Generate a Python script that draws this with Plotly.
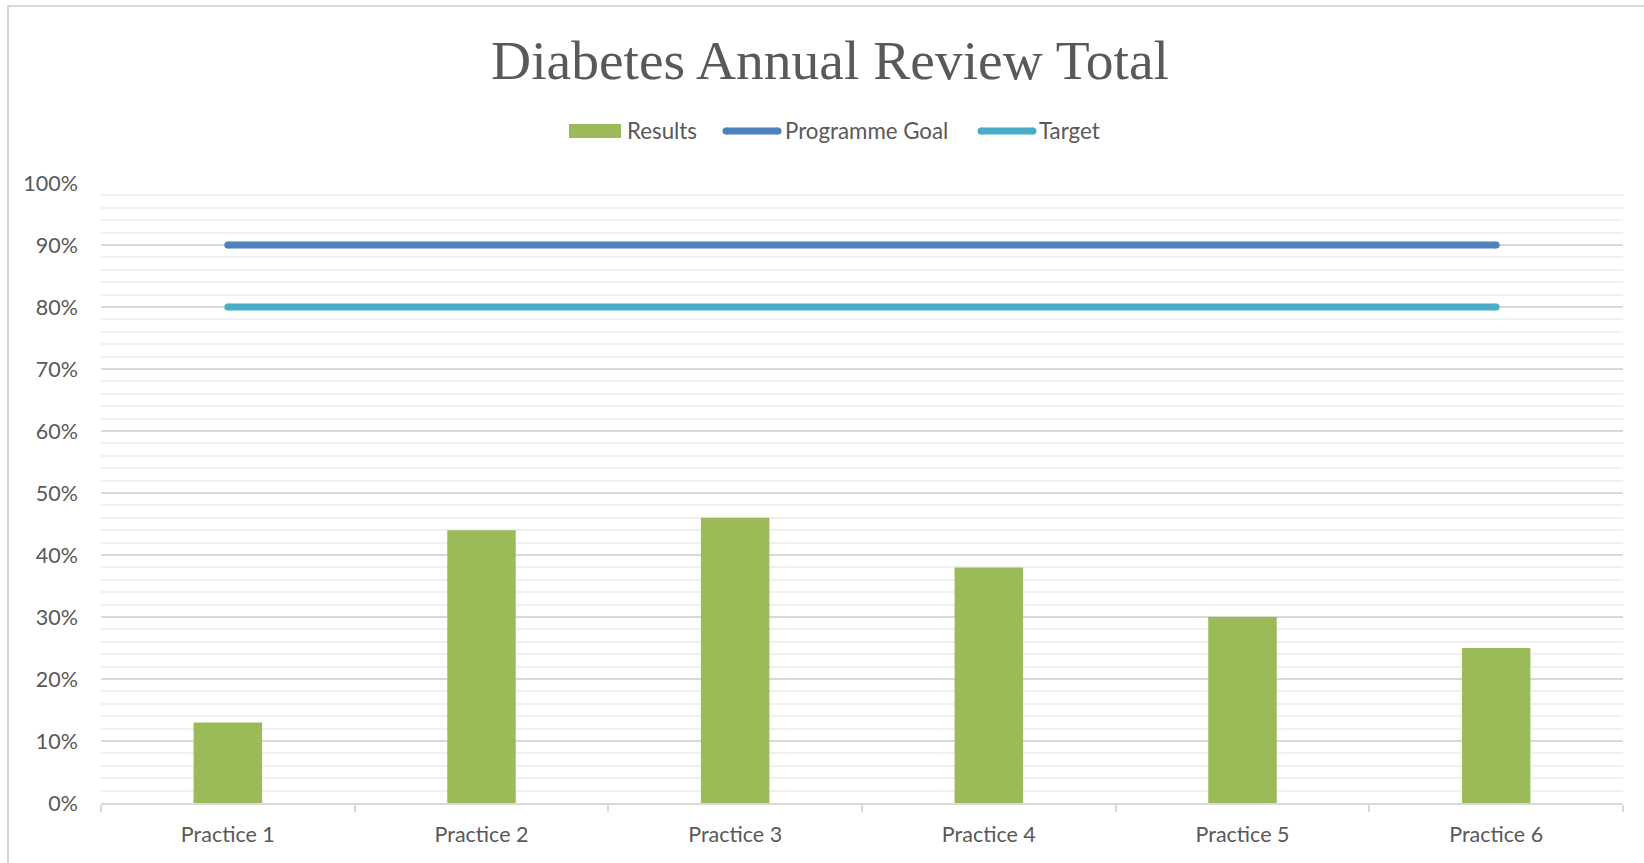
import plotly.graph_objects as go

categories = ["Practice 1", "Practice 2", "Practice 3", "Practice 4", "Practice 5", "Practice 6"]
results = [0.13, 0.44, 0.46, 0.38, 0.30, 0.25]
programme_goal = [0.90] * 6
target = [0.80] * 6
series_names = ["Results", "Programme Goal", "Target"]
y_ticks = [0, 0.1, 0.2, 0.3, 0.4, 0.5, 0.6, 0.7, 0.8, 0.9, 1.0]

W, H = 1644, 863
ML, MR, MT, MB = 101, 21, 183, 60
PW, PH = W - ML - MR, H - MT - MB

GREEN = "#9bbb59"
BLUE = "#4f81bd"
TEAL = "#4bacc6"
TXT = "#595959"


def px(x):
    return (x - ML) / PW


def py(y):
    return (H - MB - y) / PH


fig = go.Figure()
fig.add_trace(go.Bar(x=categories, y=results, name=series_names[0],
                     marker=dict(color=GREEN, line=dict(width=0)), width=0.27))
fig.add_trace(go.Scatter(x=categories, y=programme_goal, name=series_names[1], mode="lines",
                         line=dict(color=BLUE, width=7)))
fig.add_trace(go.Scatter(x=categories, y=target, name=series_names[2], mode="lines",
                         line=dict(color=TEAL, width=7)))
# round end caps
for ys, c in ((programme_goal, BLUE), (target, TEAL)):
    fig.add_trace(go.Scatter(x=[categories[0], categories[-1]], y=[ys[0], ys[-1]], mode="markers",
                             marker=dict(color=c, size=7, line=dict(width=0)), showlegend=False,
                             hoverinfo="skip"))

# chart border
fig.add_shape(type="rect", xref="paper", yref="paper",
              x0=px(8), x1=px(W + 20), y0=py(H + 20), y1=py(6),
              line=dict(color="#d9d9d9", width=2), fillcolor="rgba(0,0,0,0)", layer="below")

# custom legend (wide swatches like the original)
LY = 131
fig.add_shape(type="rect", xref="paper", yref="paper", x0=px(569), x1=px(621), y0=py(138), y1=py(124),
              line=dict(width=0), fillcolor=GREEN)
for (x0, x1), c in (((726, 778), BLUE), ((981, 1033), TEAL)):
    fig.add_shape(type="line", xref="paper", yref="paper", x0=px(x0), x1=px(x1), y0=py(LY), y1=py(LY),
                  line=dict(color=c, width=7))
    for xc in (x0, x1):
        fig.add_shape(type="circle", xref="paper", yref="paper", x0=px(xc - 3.5), x1=px(xc + 3.5),
                      y0=py(LY + 3.5), y1=py(LY - 3.5), line=dict(width=0), fillcolor=c)
for name, tx in zip(series_names, (625, 783, 1037)):
    fig.add_annotation(text=name, xref="paper", yref="paper", x=px(tx), y=py(LY), xanchor="left",
                       yanchor="middle", showarrow=False, font=dict(family="Lato", size=22.3, color=TXT))

fig.update_layout(
    width=W, height=H,
    margin=dict(l=ML, r=MR, t=MT, b=MB),
    paper_bgcolor="white", plot_bgcolor="white",
    title=dict(text="Diabetes Annual Review Total", xref="container", x=830 / W, xanchor="center",
               yref="container", y=1 - 60 / H, yanchor="middle",
               font=dict(family="Liberation Serif", size=55.5, color=TXT)),
    font=dict(family="Lato", color=TXT),
    showlegend=False,
    bargap=0.73,
)
fig.update_xaxes(showline=True, linecolor="#d9d9d9", linewidth=1.5, ticks="outside", tickson="boundaries",
                 ticklen=7, tickcolor="#d9d9d9", tickwidth=1.5, showgrid=False,
                 tickfont=dict(family="Lato", size=21.5, color=TXT), ticklabelstandoff=11)
fig.update_yaxes(range=[0, 1.0], tickvals=y_ticks, tickformat=".0%", showline=False, zeroline=False,
                 showgrid=True, gridcolor="#d9d9d9", gridwidth=1.5,
                 minor=dict(dtick=0.02, showgrid=True, gridcolor="#f0f0f0", gridwidth=1.5),
                 tickfont=dict(family="Lato", size=21.5, color=TXT), ticklabelstandoff=22)

fig.write_html("out.html", config={"displayModeBar": False},
               post_script="document.body.style.margin='0';document.body.style.overflow='hidden';")
